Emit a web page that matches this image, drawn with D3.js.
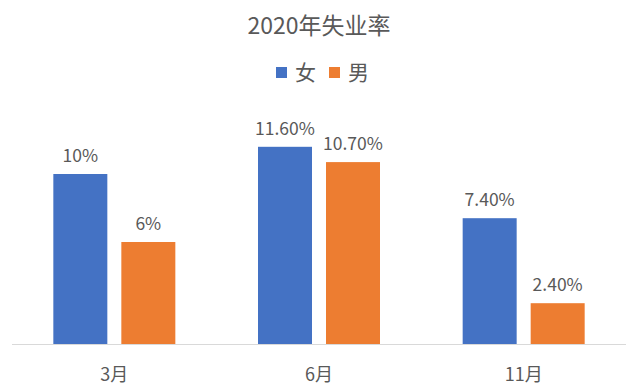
<!DOCTYPE html>
<html>
<head>
<meta charset="utf-8">
<script src="https://cdn.jsdelivr.net/npm/d3@7"></script>
<style>
  body { margin: 0; background: #fff; }
  text { font-family: "Noto Sans CJK SC", "Noto Sans", sans-serif; fill: #595959; }
</style>
</head>
<body>
<div id="chart"></div>
<script>
// data
const categories = ['3月', '6月', '11月'];
const seriesNames = ['女', '男'];
const female = [10, 11.6, 7.4];
const male = [6, 10.7, 2.4];
const valueLabels = [['10%', '11.60%', '7.40%'], ['6%', '10.70%', '2.40%']];
const colors = ['#4472C4', '#ED7D31'];

const width = 640, height = 389;
const baseY = 344;

const svg = d3.select('#chart')
    .append('svg')
    .attr('width', width)
    .attr('height', height);

const x0 = d3.scaleBand()
    .domain(categories)
    .range([12, 626])
    .padding(0);

const groupW = 122;
const x1 = d3.scaleBand()
    .domain(seriesNames)
    .range([-groupW / 2, groupW / 2])
    .paddingInner(0.206)
    .paddingOuter(0);

const y = d3.scaleLinear()
    .domain([0, 12])
    .range([baseY, baseY - 17 * 12]);

// title
svg.append('text')
    .attr('x', 319)
    .attr('y', 34)
    .attr('text-anchor', 'middle')
    .style('font-size', '23px')
    .text('2020年失业率');

// legend
const legend = [{ x: 276 }, { x: 329 }];
seriesNames.forEach((name, i) => {
    svg.append('rect')
        .attr('x', legend[i].x)
        .attr('y', 67)
        .attr('width', 11)
        .attr('height', 11)
        .attr('fill', colors[i]);
    svg.append('text')
        .attr('x', legend[i].x + 19)
        .attr('y', 80)
        .style('font-size', '21px')
        .text(name);
});

// bars
const series = [female, male];
series.forEach((vals, s) => {
    categories.forEach((cat, i) => {
        const cx = x0(cat) + x0.bandwidth() / 2;
        const bx = cx + x1(seriesNames[s]);
        svg.append('rect')
            .attr('x', bx)
            .attr('y', y(vals[i]))
            .attr('width', x1.bandwidth())
            .attr('height', baseY - y(vals[i]))
            .attr('fill', colors[s]);

        svg.append('text')
            .attr('x', bx + x1.bandwidth() / 2)
            .attr('y', y(vals[i]) - 12)
            .attr('text-anchor', 'middle')
            .style('font-size', '17.5px')
            .text(valueLabels[s][i]);
    });
});

// axis line and category labels
svg.append('line')
    .attr('x1', 12)
    .attr('x2', 626)
    .attr('y1', baseY + 0.5)
    .attr('y2', baseY + 0.5)
    .attr('stroke', '#d9d9d9')
    .attr('stroke-width', 1);

categories.forEach(cat => {
    svg.append('text')
        .attr('x', x0(cat) + x0.bandwidth() / 2)
        .attr('y', 381)
        .attr('text-anchor', 'middle')
        .style('font-size', '18px')
        .text(cat);
});
</script>
</body>
</html>
